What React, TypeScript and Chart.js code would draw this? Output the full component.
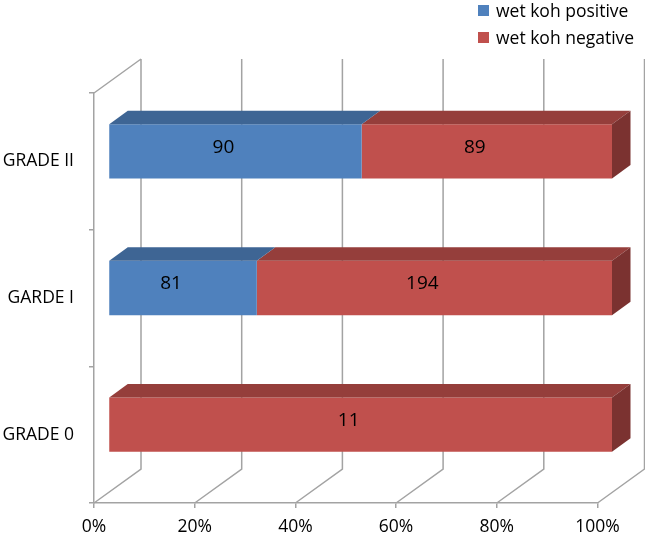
import { useEffect, useRef } from "react"
import { Chart, registerables } from "chart.js"

Chart.register(...registerables)

const categories = ["GRADE II", "GARDE I", "GRADE 0"]
const seriesNames = ["wet koh positive", "wet koh negative"]
const positiveCounts = [90, 81, 0]
const negativeCounts = [89, 194, 11]
const percentTicks = [0, 20, 40, 60, 80, 100]

const frontColors = ["#4F81BD", "#C0504D"]
const topColors = ["#3E6594", "#953E3B"]
const sideColors = ["#33537A", "#7B3230"]
const GRID_COLOR = "#A3A3A3"
const FONT = "'Open Sans', sans-serif"

// depth of the walls / floor
const WALL_DX = 47
const WALL_DY = -34
// bars sit a little behind the front plane
const BAR_DX = 14.5
const BAR_DY = -10
// thickness of each bar
const DEPTH_DX = 18.5
const DEPTH_DY = -13.5

const countSeries = [positiveCounts, negativeCounts]
const totals = categories.map((_, i) => positiveCounts[i] + negativeCounts[i])
const toPercent = (arr: number[]) => arr.map((v, i) => (v / totals[i]) * 100)

// is this segment the last visible one in its stack?
const isLastInStack = (di: number, i: number) =>
  countSeries.slice(di + 1).every((s) => !s[i])

const frame3d = {
  id: "frame3d",
  beforeDatasetsDraw(chart: any) {
    const { ctx, chartArea, scales } = chart
    const xs = scales.x
    ctx.save()
    ctx.strokeStyle = GRID_COLOR
    ctx.lineWidth = 1.5
    ctx.beginPath()
    // top edge of the left wall
    ctx.moveTo(chartArea.left, chartArea.top)
    ctx.lineTo(chartArea.left + WALL_DX, chartArea.top + WALL_DY)
    // floor diagonals + back wall gridlines
    xs.ticks.forEach((t: any) => {
      const px = xs.getPixelForValue(t.value)
      ctx.moveTo(px, chartArea.bottom)
      ctx.lineTo(px + WALL_DX, chartArea.bottom + WALL_DY)
      ctx.lineTo(px + WALL_DX, chartArea.top + WALL_DY)
    })
    ctx.stroke()
    ctx.restore()

    ctx.save()
    ctx.translate(BAR_DX, BAR_DY)
  },
  afterDatasetDraw(chart: any, args: any) {
    const { ctx } = chart
    const di = args.index
    args.meta.data.forEach((bar: any, i: number) => {
      const { x, y, base, height } = bar.getProps(["x", "y", "base", "height"], true)
      if (Math.abs(x - base) < 0.5) return
      const left = Math.min(x, base)
      const right = Math.max(x, base)
      const top = y - height / 2
      const bottom = y + height / 2

      ctx.fillStyle = topColors[di]
      ctx.beginPath()
      ctx.moveTo(left, top)
      ctx.lineTo(right, top)
      ctx.lineTo(right + DEPTH_DX, top + DEPTH_DY)
      ctx.lineTo(left + DEPTH_DX, top + DEPTH_DY)
      ctx.closePath()
      ctx.fill()

      if (!isLastInStack(di, i)) return
      ctx.fillStyle = sideColors[di]
      ctx.beginPath()
      ctx.moveTo(right, top)
      ctx.lineTo(right + DEPTH_DX, top + DEPTH_DY)
      ctx.lineTo(right + DEPTH_DX, bottom + DEPTH_DY)
      ctx.lineTo(right, bottom)
      ctx.closePath()
      ctx.fill()
    })
  },
  afterDatasetsDraw(chart: any) {
    const { ctx } = chart
    ctx.fillStyle = "#000"
    ctx.font = `19px ${FONT}`
    ctx.textAlign = "center"
    ctx.textBaseline = "middle"
    chart.data.datasets.forEach((_: any, di: number) => {
      const meta = chart.getDatasetMeta(di)
      meta.data.forEach((bar: any, i: number) => {
        const count = countSeries[di][i]
        if (!count) return
        const { x, y, base } = bar.getProps(["x", "y", "base"], true)
        ctx.fillText(String(count), (x + base) / 2 - 12, y - 4)
      })
    })
    ctx.restore()
  },
}

function Bar3DChart() {
  const chartRef = useRef<HTMLCanvasElement>(null)
  const chartInstance = useRef<Chart | null>(null)

  useEffect(() => {
    if (!chartRef.current) return
    if (chartInstance.current) chartInstance.current.destroy()
    const ctx = chartRef.current.getContext("2d")
    if (!ctx) return

    chartInstance.current = new Chart(ctx, {
      type: "bar",
      data: {
        labels: categories,
        datasets: [
          {
            label: seriesNames[0],
            data: toPercent(positiveCounts),
            backgroundColor: frontColors[0],
            borderWidth: 0,
            clip: false as any,
          },
          {
            label: seriesNames[1],
            data: toPercent(negativeCounts),
            backgroundColor: frontColors[1],
            borderWidth: 0,
            clip: false as any,
          },
        ],
      },
      options: {
        indexAxis: "y",
        animation: false,
        responsive: true,
        maintainAspectRatio: false,
        layout: { padding: { top: 93, right: 47.5, bottom: 0, left: 0 } },
        datasets: { bar: { barPercentage: 0.397, categoryPercentage: 1 } },
        scales: {
          x: {
            type: "linear",
            stacked: true,
            min: 0,
            max: 100,
            afterFit: (scale: any) => {
              scale.height = 34
            },
            afterBuildTicks: (scale: any) => {
              scale.ticks = percentTicks.map((v) => ({ value: v }))
            },
            ticks: {
              callback: (value) => `${value}%`,
              color: "#000",
              font: { family: FONT, size: 17.5 },
              padding: 9,
              maxRotation: 0,
              autoSkip: false,
            },
            grid: { drawOnChartArea: false, tickLength: 5, color: GRID_COLOR, lineWidth: 1.5 },
            border: { display: true, color: GRID_COLOR, width: 1.5 },
          },
          y: {
            stacked: true,
            offset: true,
            afterFit: (scale: any) => {
              scale.width = 94
            },
            ticks: {
              color: "#000",
              font: { family: FONT, size: 17.5 },
              padding: 15,
            },
            grid: { drawOnChartArea: false, offset: true, tickLength: 5, color: GRID_COLOR, lineWidth: 1.5 },
            border: { display: true, color: GRID_COLOR, width: 1.5 },
          },
        },
        plugins: {
          legend: { display: false },
          tooltip: { enabled: false },
        },
      },
      plugins: [frame3d],
    })

    return () => {
      if (chartInstance.current) {
        chartInstance.current.destroy()
        chartInstance.current = null
      }
    }
  }, [])

  return (
    <div style={{ position: "absolute", left: 0, top: 0, width: 645, height: 537, background: "#fff" }}>
      <canvas ref={chartRef} />
      <div style={{ position: "absolute", left: 478, top: 0, fontFamily: FONT, fontSize: 17.5, color: "#000" }}>
        {seriesNames.map((name, i) => (
          <div key={name} style={{ display: "flex", alignItems: "center", height: 27, marginTop: i === 0 ? -3.5 : 0 }}>
            <span style={{ width: 11, height: 11, background: frontColors[i], marginRight: 7, display: "inline-block" }} />
            <span style={{ lineHeight: "20px" }}>{name}</span>
          </div>
        ))}
      </div>
    </div>
  )
}

export default function App() {
  return <Bar3DChart />
}
